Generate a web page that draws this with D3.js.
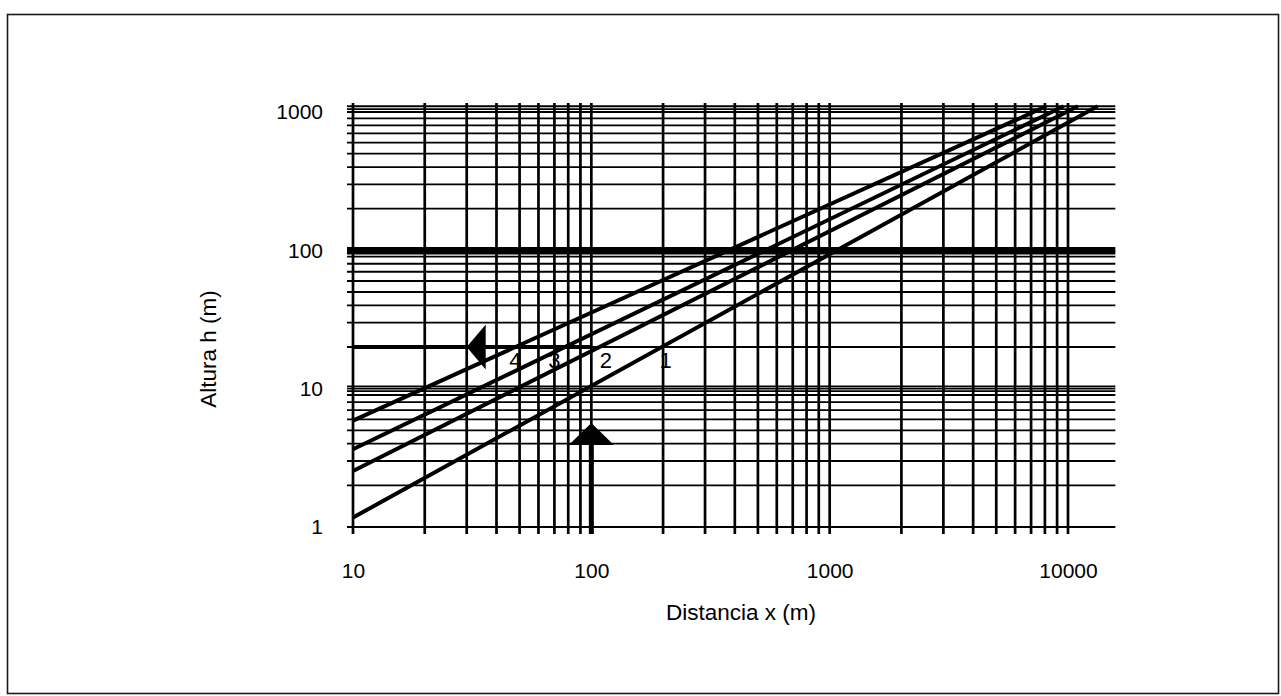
<!DOCTYPE html>
<html>
<head>
<meta charset="utf-8">
<script src="https://cdn.jsdelivr.net/npm/d3@7"></script>
<style>
html, body { margin: 0; padding: 0; background: #fff; }
svg { display: block; }
text { font-family: "Liberation Sans", Arial, Helvetica, sans-serif; fill: #000; }
</style>
</head>
<body>
<svg id="chart" width="1281" height="696"></svg>
<script>
// ---------------- data ----------------
const xTickValues = [10, 100, 1000, 10000];
const yTickValues = [1, 10, 100, 1000];
const xTickLabels = ["10", "100", "1000", "10000"];
const yTickLabels = ["1", "10", "100", "1000"];

const xGridValues = [10, 20, 30, 40, 50, 60, 70, 80, 90,
                     100, 200, 300, 400, 500, 600, 700, 800, 900,
                     1000, 2000, 3000, 4000, 5000, 6000, 7000, 8000, 9000, 10000];
const yGridValues = [1, 2, 3, 4, 5, 6, 7, 8, 9,
                     10, 20, 30, 40, 50, 60, 70, 80, 90,
                     100, 200, 300, 400, 500, 600, 700, 800, 900, 1000];
const yGridExtra = [9.6, 10.4, 96, 104, 1050, 1100];   // doubled lines of the printed paper
const yGridHeavy = [100, 96];
const xGridRightLimit = 15800;                          // horizontal lines run past 10000

const curveNames  = ["1", "2", "3", "4"];
const curveStartX = [10, 10, 10, 10];
const curveStartH = [1.17, 2.54, 3.65, 5.87];
const curveEndX   = [13300, 11000, 9600, 8100];
const curveEndH   = [1100, 1100, 1100, 1100];

const labelX = [205, 115, 70, 48];
const labelH = [14.1, 14.1, 14.1, 14.1];

const readingH = 20;          // horizontal reading line h = 20 m
const readingHFromX = 10;
const readingHToX = 100;
const readingHTipX = 30;
const readingX = 100;         // vertical reading line x = 100 m
const readingXFromH = 1;
const readingXTipH = 5.65;

const xTitle = "Distancia x (m)";
const yTitle = "Altura h (m)";

// ---------------- drawing ----------------
const svg = d3.select("#chart");
svg.append("rect").attr("width", 1281).attr("height", 696).attr("fill", "#fff");

// page frame
svg.append("rect")
  .attr("x", 7.5).attr("y", 14.5).attr("width", 1271).attr("height", 679)
  .attr("fill", "none").attr("stroke", "#1a1a1a").attr("stroke-width", 1.6);

const x = d3.scaleLog().domain([10, 10000]).range([353, 1068]);
const y = d3.scaleLog().domain([1, 1000]).range([527, 112]);

const g = svg.append("g");

// horizontal grid
const hLeft = x(10) - 6, hRight = x(xGridRightLimit);
g.selectAll("line.hgrid")
  .data(yGridValues.concat(yGridExtra))
  .join("line")
  .attr("class", "hgrid")
  .attr("x1", hLeft).attr("x2", hRight)
  .attr("y1", d => y(d)).attr("y2", d => y(d))
  .attr("stroke", "#000")
  .attr("stroke-width", d => yGridHeavy.includes(d) ? 3.4 : 1.8);

// vertical grid
const vTop = y(1000) - 9, vBottom = y(1) + 7;
g.selectAll("line.vgrid")
  .data(xGridValues)
  .join("line")
  .attr("class", "vgrid")
  .attr("x1", d => x(d)).attr("x2", d => x(d))
  .attr("y1", vTop).attr("y2", vBottom)
  .attr("stroke", "#000")
  .attr("stroke-width", 2.7);

// curves
const curves = curveNames.map((n, i) => ({
  name: n,
  pts: [[curveStartX[i], curveStartH[i]], [curveEndX[i], curveEndH[i]]]
}));
const line = d3.line().x(d => x(d[0])).y(d => y(d[1]));
g.selectAll("path.curve")
  .data(curves)
  .join("path")
  .attr("class", "curve")
  .attr("d", d => line(d.pts))
  .attr("fill", "none")
  .attr("stroke", "#000")
  .attr("stroke-width", 4)
  .attr("stroke-linecap", "butt");

// horizontal reading line with arrow
g.append("line")
  .attr("x1", x(readingHFromX)).attr("x2", x(readingHToX))
  .attr("y1", y(readingH)).attr("y2", y(readingH))
  .attr("stroke", "#000").attr("stroke-width", 4.2);
{
  const tx = x(readingHTipX), ty = y(readingH);
  g.append("path")
    .attr("d", `M${tx},${ty} L${tx + 19},${ty - 22.5} L${tx + 19},${ty + 22.5} Z`)
    .attr("fill", "#000");
}

// vertical reading line with arrow
{
  const tx = x(readingX), ty = y(readingXTipH);
  g.append("line")
    .attr("x1", tx).attr("x2", tx)
    .attr("y1", y(readingXFromH) + 7).attr("y2", ty + 20)
    .attr("stroke", "#000").attr("stroke-width", 5);
  g.append("path")
    .attr("d", `M${tx},${ty} L${tx - 22.5},${ty + 22} L${tx + 22.5},${ty + 22} Z`)
    .attr("fill", "#000");
}

// curve number labels
g.selectAll("text.clabel")
  .data(curveNames)
  .join("text")
  .attr("class", "clabel")
  .attr("x", (d, i) => x(labelX[i]))
  .attr("y", (d, i) => y(labelH[i]))
  .attr("text-anchor", "middle")
  .attr("font-size", 22)
  .text(d => d);

// axes (labels only)
const yAxis = d3.axisLeft(y).tickValues(yTickValues)
  .tickFormat((d, i) => yTickLabels[i]).tickSize(0).tickPadding(30);
const yAx = svg.append("g").attr("transform", `translate(${x(10)},0)`).call(yAxis);
yAx.select(".domain").remove();
yAx.selectAll("text").attr("font-size", 21).attr("font-family", null).attr("fill", "#000");

const xAxis = d3.axisBottom(x).tickValues(xTickValues)
  .tickFormat((d, i) => xTickLabels[i]).tickSize(0).tickPadding(36);
const xAx = svg.append("g").attr("transform", `translate(0,${y(1)})`).call(xAxis);
xAx.select(".domain").remove();
xAx.selectAll("text").attr("font-size", 21).attr("font-family", null).attr("fill", "#000");

// axis titles
svg.append("text")
  .attr("x", 741).attr("y", 620)
  .attr("text-anchor", "middle")
  .attr("font-size", 22.5)
  .text(xTitle);

svg.append("text")
  .attr("transform", "translate(216,349) rotate(-90)")
  .attr("text-anchor", "middle")
  .attr("font-size", 22.5)
  .text(yTitle);
</script>
</body>
</html>
